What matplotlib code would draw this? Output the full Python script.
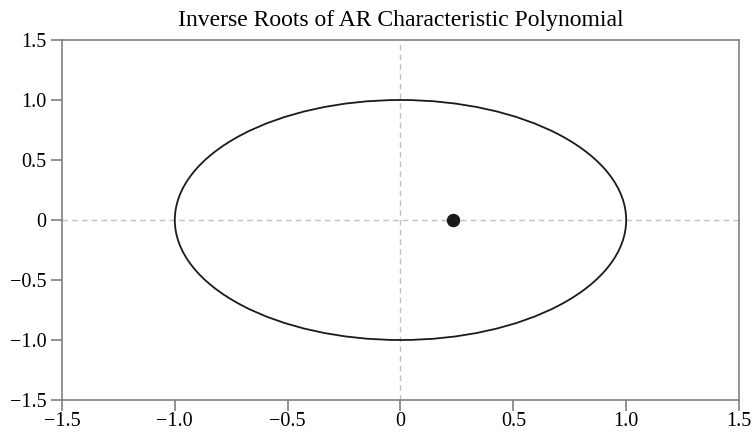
import numpy as np
import matplotlib
matplotlib.use('Agg')
from matplotlib import pyplot as plt

plt.rcParams['font.family'] = ['Liberation Serif', 'DejaVu Serif']

# inverse AR roots (real, imaginary)
root_real = [0.232]
root_imag = [0.0]
ticks = [-1.5, -1.0, -0.5, 0, 0.5, 1.0, 1.5]
tick_labels = ['\u22121.5', '\u22121.0', '\u22120.5', '0', '0.5', '1.0', '1.5']

fig = plt.figure(figsize=(7.53, 4.33), dpi=100)
ax = fig.add_axes([0.0823, 0.0762, 0.8991, 0.8314])

ax.axhline(0, color='#c0c0c0', lw=1, ls=(0, (4, 3)), zorder=1)
ax.axvline(0, color='#c0c0c0', lw=1, ls=(0, (4, 3)), zorder=1)
ax.add_patch(plt.Circle((0, 0), 1.0, fill=False, color='#1a1a1a', lw=1.3, zorder=2))
ax.scatter(root_real, root_imag, s=75, color='#1a1a1a', zorder=3)

ax.set_xlim(-1.5, 1.5)
ax.set_ylim(-1.5, 1.5)
ax.set_xticks(ticks)
ax.set_xticklabels(tick_labels)
ax.set_yticks(ticks)
ax.set_yticklabels(tick_labels)
ax.tick_params(direction='out', length=8, width=1.2, color='#808080', labelsize=14.5)
ax.tick_params(axis='y', pad=3)
ax.tick_params(axis='x', pad=0.5)
for s in ax.spines.values():
    s.set_color('#808080')
    s.set_linewidth(1.2)
ax.set_title('Inverse Roots of AR Characteristic Polynomial', fontsize=17, pad=10)

fig.savefig('out.png', dpi=100)
